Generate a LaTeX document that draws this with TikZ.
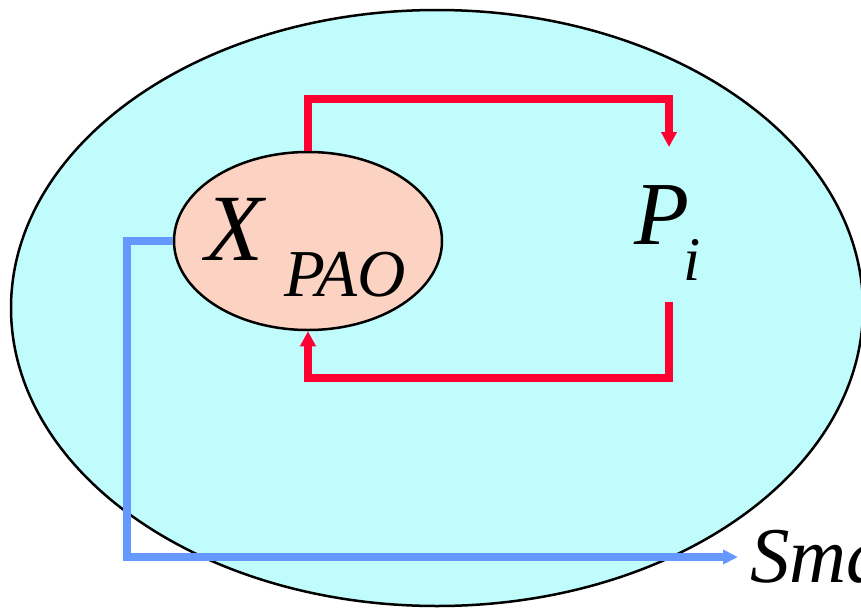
\documentclass[tikz,border=0pt]{standalone}
\usepackage{fontspec}
\setmainfont{Liberation Serif}
\usetikzlibrary{arrows.meta,shapes.geometric}
\definecolor{envfill}{RGB}{192,252,252}
\definecolor{pafill}{RGB}{252,210,194}
\definecolor{redline}{RGB}{255,0,48}
\definecolor{blueline}{RGB}{102,153,255}
\tikzset{
  lbl/.style={inner sep=0pt,outer sep=0pt,anchor=base west,font=\itshape},
  redflow/.style={draw=redline,line width=7.5pt,line join=miter,
    -{Triangle[length=15pt,width=15pt]}},
  blueflow/.style={draw=blueline,line width=7.5pt,line join=miter,
    -{Triangle[length=15pt,width=14pt]}},
}
\begin{document}
\begin{tikzpicture}[x=1pt,y=-1pt]
\useasboundingbox (0,0) rectangle (861,610);
\clip (0,0) rectangle (861,610);
\node[ellipse,draw=black,line width=2.5pt,fill=envfill,
  minimum width=852pt,minimum height=596pt,inner sep=0pt] (env) at (437,308) {};
\node[ellipse,draw=black,line width=2.5pt,fill=pafill,
  minimum width=268pt,minimum height=178pt,inner sep=0pt] (x) at (308,241) {};
\node[lbl,font=\fontsize{95}{95}\selectfont\itshape] (xl) at (205,260) {X};
\node[lbl,font=\fontsize{67}{67}\selectfont\itshape] (pao) at (284,296) {PAO};
\node[lbl,font=\fontsize{90}{90}\selectfont\itshape] (p) at (634,244) {P};
\node[lbl,font=\fontsize{62}{62}\selectfont\itshape] (pi) at (683,280) {i};
\coordinate (pin) at (669,147);
\coordinate (pout) at (669,302);
\coordinate (send) at (738,557);
\node[lbl,font=\fontsize{79}{79}\selectfont\itshape] (s) at (750,582) {Sma};
\draw[redflow] (x.north) -- (308,99) -| (pin);
\draw[redflow] (pout) -- (669,378) -| (x.south);
\draw[blueflow] (x.west) -- (127,241) |- (send);
\end{tikzpicture}
\end{document}
